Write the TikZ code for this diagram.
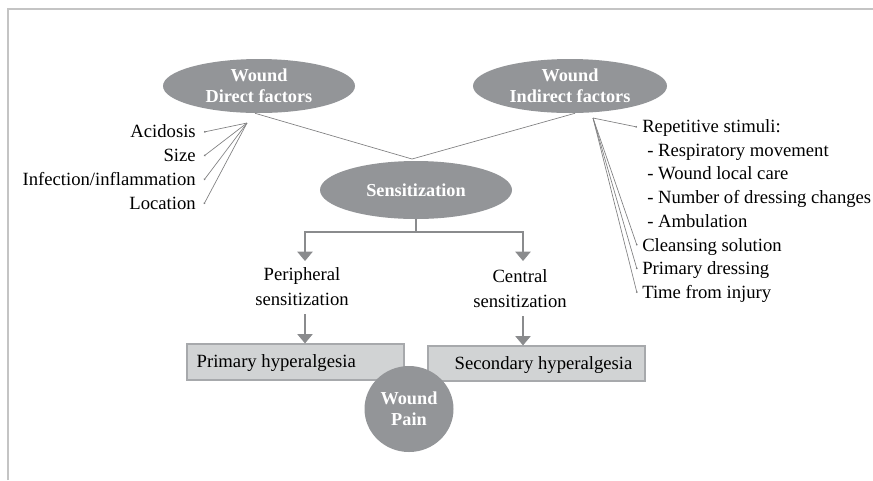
\documentclass[tikz,border=0pt]{standalone}
\usepackage{fontspec}
\setmainfont{Liberation Serif}
\usetikzlibrary{arrows.meta,shapes.geometric,calc}
\definecolor{ellgray}{HTML}{939598}
\definecolor{boxfill}{HTML}{D1D3D4}
\definecolor{boxline}{HTML}{A7A9AC}
\definecolor{linegray}{HTML}{7F7F80}
\definecolor{arrgray}{HTML}{8A8B8D}
\definecolor{framegray}{HTML}{C4C4C4}
\begin{document}
\begin{tikzpicture}[x=0.75pt,y=-0.75pt,
  bubble/.style={ellipse, fill=ellgray, draw=none, inner sep=0pt, text=white, align=center,
     font=\fontsize{13.7pt}{15.75pt}\selectfont\bfseries},
  hbox/.style={rectangle, fill=boxfill, draw=boxline, line width=0.9pt, inner sep=0pt,
     minimum width=162.75pt},
  lbl/.style={inner sep=0pt, font=\fontsize{14pt}{18.75pt}\selectfont, align=center},
  thin/.style={draw=linegray, line width=0.5pt},
  dotend/.style={thin, -{Circle[length=1.3pt]}},
  flow/.style={draw=arrgray, line width=0.8pt},
  flowarr/.style={flow, -{Triangle[width=11.5pt,length=7pt]}}
]
\useasboundingbox (0,0) rectangle (873,480);
% frame
\draw[framegray, line width=1.5pt] (7.7,480) -- (7.7,8.5) -- (873,8.5);

% ellipses
\node[bubble, minimum width=144pt, minimum height=40.5pt] (direct) at (259,86) {Wound\\Direct factors};
\node[bubble, minimum width=145.5pt, minimum height=40.5pt] (indirect) at (570,86) {Wound\\Indirect factors};
\node[bubble, minimum width=144pt, minimum height=43.5pt] (sens) at (416,190) {Sensitization};

\coordinate (meet) at (412,159);
\draw[thin] ($(direct.south)+(-4,0)$) -- (meet);
\draw[thin] ($(indirect.south)+(5,0)$) -- (meet);

% left labels (baselines)
\node[lbl, anchor=base east] (acid) at (196,137.5) {Acidosis};
\node[lbl, anchor=base east] (size) at (196,161.5) {Size};
\node[lbl, anchor=base east] (infe) at (196,185.5) {Infection/inflammation};
\node[lbl, anchor=base east] (loca) at (196,209.5) {Location};
\coordinate (lapex) at (247,123);
\foreach \n in {acid,size,infe,loca}
  \draw[dotend] (lapex) -- ($(\n.base east)+(8,-5.5)$);

% right labels (baselines)
\node[lbl, anchor=base west] (rep) at (642,132.5) {Repetitive stimuli:};
\node[lbl, anchor=base west] (resp) at (647,156.2) {- Respiratory movement};
\node[lbl, anchor=base west] (wlc) at (647,179.9) {- Wound local care};
\node[lbl, anchor=base west] (ndc) at (647,203.6) {- Number of dressing changes};
\node[lbl, anchor=base west] (amb) at (647,227.3) {- Ambulation};
\node[lbl, anchor=base west] (cle) at (642,251) {Cleansing solution};
\node[lbl, anchor=base west] (prim) at (642,274.7) {Primary dressing};
\node[lbl, anchor=base west] (time) at (642,298.4) {Time from injury};
\coordinate (rapex) at (593,118);
\foreach \n in {rep,cle,prim,time}
  \draw[dotend] (rapex) -- ($(\n.base west)+(-5,-5.5)$);

% sensitization branches
\node[lbl] (periph) at (302,287) {Peripheral\\sensitization};
\node[lbl] (central) at (520,289) {Central\\sensitization};
\coordinate (fork) at (416,232);
\coordinate (ptip) at (305,261);
\coordinate (ctip) at (523,261);
\draw[flow] (sens.south) -- (fork);
\draw[flowarr] (fork) -| (ptip);
\draw[flowarr] (fork) -| (ctip);

% boxes
\node[hbox, minimum height=27pt] (pbox) at (295.5,362) {};
\node[hbox, minimum height=26.25pt] (sbox) at (536.5,363.5) {};
\node[lbl, anchor=base west] (ptext) at ($(pbox.west)+(10,5.5)$) {Primary hyperalgesia};
\node[lbl, anchor=base west] (stext) at ($(sbox.west)+(27,5.5)$) {Secondary hyperalgesia};

\coordinate (pstart) at (305,314);
\coordinate (cstart) at (523,316);
\draw[flowarr] (pstart) -- (pstart |- pbox.north);
\draw[flowarr] (cstart) -- (cstart |- sbox.north);

% wound pain
\node[bubble, minimum width=66.75pt, minimum height=64.5pt] (pain) at (409,409) {Wound\\Pain};
\end{tikzpicture}
\end{document}
